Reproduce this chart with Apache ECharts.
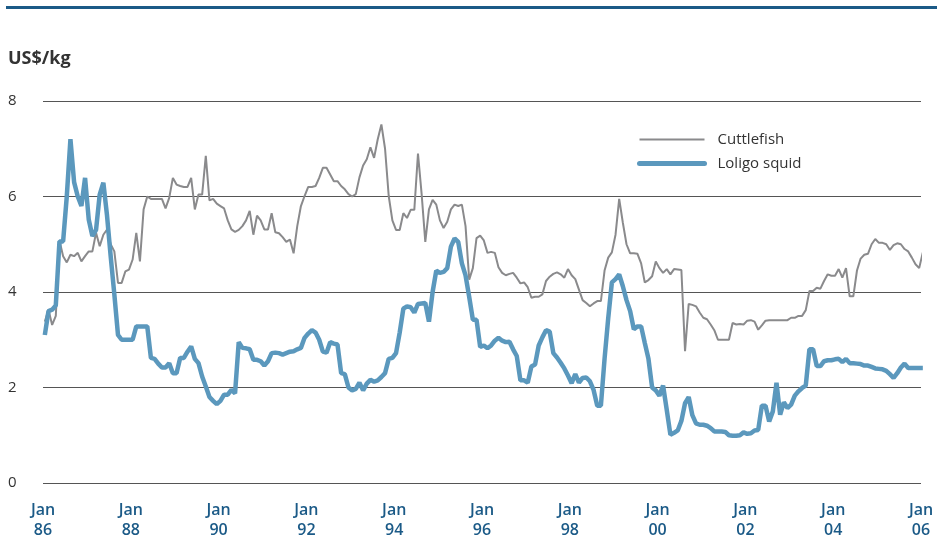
<!DOCTYPE html>
<html>
<head>
<meta charset="utf-8">
<script src="https://cdn.jsdelivr.net/npm/echarts@6/dist/echarts.min.js"></script>
<style>
  html, body { margin: 0; padding: 0; background: #ffffff; }
  #chart { width: 937px; height: 540px; }
</style>
</head>
<body>
<div id="chart"></div>
<script>
// Monthly prices, US$/kg, Jan 1986 - Jan 2006 (one value per month)
const seriesNames = ['Cuttlefish', 'Loligo squid'];
const yearLabels = ['86', '88', '90', '92', '94', '96', '98', '00', '02', '04', '06'];
const yTicks = [0, 2, 4, 6, 8];

const cuttlefish = [
  3.38, 3.63, 3.31, 3.5, 5.08, 4.75, 4.62, 4.78, 4.75, 4.82, 4.64, 4.75,
  4.85, 4.85, 5.24, 4.96, 5.2, 5.31, 5.0, 4.85, 4.19, 4.19, 4.43, 4.47,
  4.68, 5.24, 4.64, 5.73, 6.0, 5.95, 5.95, 5.95, 5.95, 5.75, 5.97, 6.39,
  6.25, 6.22, 6.2, 6.2, 6.39, 5.73, 6.04, 6.04, 6.85, 5.92, 5.95, 5.85,
  5.8, 5.75, 5.5, 5.31, 5.26, 5.3, 5.38, 5.5, 5.7, 5.2, 5.6, 5.5,
  5.31, 5.31, 5.65, 5.25, 5.23, 5.15, 5.05, 5.1, 4.81, 5.38, 5.8, 6.01,
  6.2, 6.2, 6.22, 6.39, 6.6, 6.6, 6.46, 6.32, 6.32, 6.22, 6.15, 6.05,
  6.0, 6.05, 6.4, 6.65, 6.78, 7.03, 6.81, 7.2, 7.51, 7.0, 6.01, 5.5,
  5.3, 5.3, 5.65, 5.55, 5.72, 5.72, 6.9, 6.05, 5.05, 5.73, 5.93, 5.83,
  5.5, 5.34, 5.47, 5.73, 5.83, 5.8, 5.83, 5.38, 4.26, 4.5, 5.13, 5.18,
  5.08, 4.82, 4.84, 4.82, 4.52, 4.4, 4.35, 4.38, 4.4, 4.3, 4.18, 4.2,
  4.1, 3.88, 3.9, 3.9, 3.95, 4.23, 4.32, 4.38, 4.41, 4.37, 4.3, 4.48,
  4.35, 4.27, 4.05, 3.83, 3.77, 3.7, 3.76, 3.81, 3.81, 4.45, 4.72, 4.83,
  5.2, 5.95, 5.45, 5.0, 4.81, 4.81, 4.8, 4.6, 4.2, 4.25, 4.33, 4.64,
  4.5, 4.4, 4.48, 4.37, 4.48, 4.47, 4.46, 2.76, 3.75, 3.73, 3.7, 3.57,
  3.46, 3.43, 3.32, 3.2, 3.0, 3.0, 3.0, 3.0, 3.35, 3.32, 3.33, 3.32,
  3.4, 3.41, 3.38, 3.21, 3.3, 3.4, 3.41, 3.41, 3.41, 3.41, 3.41, 3.41,
  3.46, 3.46, 3.5, 3.5, 3.62, 4.02, 4.02, 4.09, 4.07, 4.23, 4.37, 4.34,
  4.34, 4.48, 4.3, 4.5, 3.91, 3.91, 4.45, 4.7, 4.78, 4.8, 5.0, 5.11,
  5.03, 5.03, 5.0, 4.88, 4.98, 5.02, 5.0, 4.9, 4.85, 4.72, 4.58, 4.5,
  4.83
];

const loligo = [
  3.1, 3.6, 3.63, 3.72, 5.06, 5.06, 6.0, 7.2, 6.3, 6.0, 5.8, 6.39,
  5.52, 5.17, 5.3, 6.04, 6.29, 5.6, 4.75, 3.95, 3.1, 3.0, 3.0, 3.0,
  3.0, 3.28, 3.28, 3.28, 3.28, 2.62, 2.6, 2.5, 2.42, 2.42, 2.51, 2.3,
  2.3, 2.62, 2.62, 2.75, 2.86, 2.6, 2.51, 2.23, 2.02, 1.8, 1.72, 1.65,
  1.72, 1.85, 1.85, 1.95, 1.88, 2.95, 2.83, 2.82, 2.8, 2.58, 2.58, 2.55,
  2.46, 2.55, 2.72, 2.73, 2.72, 2.69, 2.72, 2.75, 2.76, 2.8, 2.83, 3.04,
  3.13, 3.2, 3.15, 3.0, 2.75, 2.73, 2.95, 2.92, 2.9, 2.3, 2.28, 2.0,
  1.94, 1.97, 2.1, 1.94, 2.08, 2.16, 2.12, 2.15, 2.22, 2.3, 2.6, 2.62,
  2.72, 3.15, 3.65, 3.7, 3.68, 3.57, 3.75, 3.76, 3.77, 3.38, 4.0, 4.45,
  4.4, 4.42, 4.5, 4.95, 5.12, 5.05, 4.6, 4.35, 3.9, 3.42, 3.42, 2.85,
  2.88, 2.82, 2.88, 2.98, 3.04, 2.98, 2.95, 2.96, 2.8, 2.66, 2.15, 2.15,
  2.1, 2.44, 2.48, 2.88, 3.05, 3.2, 3.17, 2.72, 2.63, 2.52, 2.4, 2.25,
  2.09, 2.28, 2.1, 2.2, 2.21, 2.13, 1.95, 1.62, 1.62, 2.6, 3.45, 4.2,
  4.27, 4.37, 4.12, 3.83, 3.6, 3.22, 3.28, 3.28, 2.93, 2.6, 2.0, 1.94,
  1.83, 2.04, 1.53, 1.01, 1.05, 1.1, 1.3, 1.67, 1.8, 1.42, 1.25, 1.22,
  1.22, 1.2, 1.15, 1.08, 1.08, 1.08, 1.07, 1.0, 0.99, 0.99, 1.0, 1.06,
  1.03, 1.04, 1.1, 1.11, 1.62, 1.62, 1.29, 1.5, 2.1, 1.43, 1.69, 1.57,
  1.64, 1.83, 1.92, 1.99, 2.04, 2.8, 2.8, 2.45, 2.45, 2.55, 2.57, 2.57,
  2.59, 2.6, 2.53, 2.6, 2.51, 2.51, 2.5, 2.49, 2.46, 2.46, 2.43, 2.4,
  2.39, 2.38, 2.35, 2.28, 2.2, 2.3, 2.42, 2.5, 2.41, 2.41, 2.41, 2.41,
  2.41
];

const FONT = '"Open Sans", "Noto Sans", sans-serif';
const MONTHS_PER_TICK = 24;

// Each monthly value is placed at the middle of its month on a month-index axis
function toPoints(values) {
  return values.map((v, i) => [i + 0.5, v]);
}

const chart = echarts.init(document.getElementById('chart'), null, { renderer: 'canvas' });

chart.setOption({
  animation: false,
  backgroundColor: '#ffffff',
  textStyle: { fontFamily: FONT },
  graphic: [
    {
      type: 'rect',
      left: 6, top: 6,
      shape: { width: 931, height: 3 },
      style: { fill: '#1b5a87' }
    },
    {
      type: 'text',
      left: 8, top: 50,
      style: { text: 'US$/kg', fontFamily: FONT, fontSize: 18, fontWeight: 'bold', fill: '#333333' }
    }
  ],
  legend: {
    orient: 'vertical',
    left: 637, top: 132,
    padding: 0,
    itemWidth: 65, itemHeight: 16, itemGap: 9,
    itemStyle: { opacity: 0 },
    textStyle: { fontFamily: FONT, fontSize: 15, color: '#333333', padding: [0, 0, 0, 8] },
    data: [
      { name: seriesNames[0], lineStyle: { width: 2 } },
      { name: seriesNames[1], lineStyle: { width: 5, cap: 'round' } }
    ]
  },
  grid: { left: 43, right: 16, top: 101, bottom: 57, containLabel: false },
  xAxis: {
    type: 'value',
    min: 0,
    max: MONTHS_PER_TICK * (yearLabels.length - 1),
    interval: MONTHS_PER_TICK,
    axisLine: { show: false },
    axisTick: { show: false },
    splitLine: { show: false },
    axisLabel: {
      margin: 17,
      fontFamily: FONT,
      fontSize: 16,
      fontWeight: 600,
      lineHeight: 20,
      color: '#1b5a87',
      formatter: v => 'Jan\n' + yearLabels[Math.round(v / MONTHS_PER_TICK)]
    }
  },
  yAxis: {
    type: 'value',
    min: yTicks[0],
    max: yTicks[yTicks.length - 1],
    interval: 2,
    axisLine: { show: false },
    axisTick: { show: false },
    splitLine: { show: true, lineStyle: { color: '#555555', width: 1 } },
    axisLabel: {
      align: 'left',
      margin: 35,
      fontFamily: FONT,
      fontSize: 15,
      color: '#333333'
    }
  },
  series: [
    {
      name: seriesNames[0],
      type: 'line',
      data: toPoints(cuttlefish),
      symbol: 'none',
      clip: false,
      lineStyle: { color: '#8a8a8c', width: 2 },
      itemStyle: { color: '#8a8a8c' },
      z: 2
    },
    {
      name: seriesNames[1],
      type: 'line',
      data: toPoints(loligo),
      symbol: 'none',
      clip: false,
      lineStyle: { color: '#5b98bd', width: 4.5 },
      itemStyle: { color: '#5b98bd' },
      z: 3
    }
  ]
});
</script>
</body>
</html>
